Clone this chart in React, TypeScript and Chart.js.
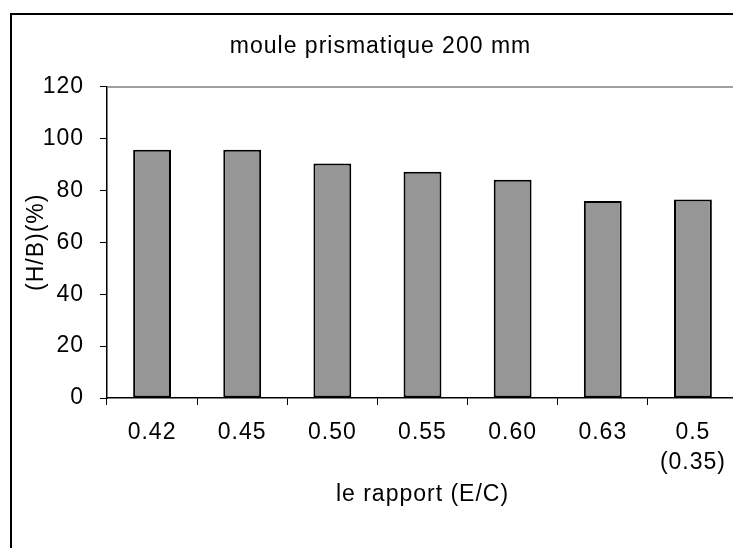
import React, { useEffect, useRef } from "react";
import { Chart, registerables } from "chart.js";

Chart.register(...registerables);

const chartTitle = "moule prismatique 200 mm";
const xAxisTitle = "le rapport (E/C)";
const yAxisTitle = "(H/B)(%)";
const categories: (string | string[])[] = ["0.42", "0.45", "0.50", "0.55", "0.60", "0.63", ["0.5", "(0.35)"]];
const values = [95.7, 95.7, 90.4, 87.2, 84.1, 75.9, 76.5];
const yMin = 0;
const yMax = 120;
const yStep = 20;

const FONT = "'Liberation Sans', Arial, sans-serif";
const SPACING = "1px";
const FS = 23;

const setSpacing = (chart: any) => {
  try {
    (chart.ctx as any).letterSpacing = SPACING;
  } catch (e) {}
};

const framePlugin = {
  id: "framePlugin",
  beforeUpdate(chart: any) {
    setSpacing(chart);
  },
  beforeDraw(chart: any) {
    setSpacing(chart);
  },
  beforeDatasetsDraw(chart: any) {
    const { ctx, chartArea } = chart;
    ctx.save();
    ctx.strokeStyle = "#808080";
    ctx.lineWidth = 1.5;
    ctx.beginPath();
    ctx.moveTo(chartArea.left, chartArea.top + 0.5);
    ctx.lineTo(chartArea.right + 0.5, chartArea.top + 0.5);
    ctx.lineTo(chartArea.right + 0.5, chartArea.bottom);
    ctx.stroke();
    ctx.restore();
  },
  afterDraw(chart: any) {
    const { ctx } = chart;
    ctx.save();
    ctx.strokeStyle = "#000000";
    ctx.lineWidth = 2;
    ctx.beginPath();
    ctx.moveTo(3, chart.height + 10);
    ctx.lineTo(3, 6);
    ctx.lineTo(chart.width + 10, 6);
    ctx.stroke();
    ctx.restore();
  },
};

export default function App() {
  const ref = useRef<HTMLCanvasElement | null>(null);

  useEffect(() => {
    if (!ref.current) return;
    const chart = new Chart(ref.current, {
      type: "bar",
      data: {
        labels: categories as any,
        datasets: [
          {
            data: values,
            backgroundColor: "#969696",
            borderColor: "#000000",
            borderWidth: 2,
            borderSkipped: false,
            barPercentage: 0.42,
            categoryPercentage: 1,
          },
        ],
      },
      options: {
        responsive: false,
        animation: false,
        devicePixelRatio: 1,
        layout: { padding: { left: 15, right: 3, top: 0, bottom: 0 } },
        plugins: {
          legend: { display: false },
          tooltip: { enabled: false },
          title: {
            display: true,
            text: chartTitle,
            color: "#000000",
            font: { family: FONT, size: FS, weight: "normal", lineHeight: 1.2 },
            padding: { top: 25, bottom: 26 },
          },
        },
        scales: {
          x: {
            type: "category",
            offset: true,
            grid: {
              display: true,
              offset: true,
              drawOnChartArea: false,
              drawTicks: true,
              tickLength: 7,
              color: "#000000",
              lineWidth: 1,
            },
            border: { display: true, color: "#000000", width: 1.5 },
            ticks: {
              color: "#000000",
              font: { family: FONT, size: FS, lineHeight: 1.3 },
              padding: 13,
              maxRotation: 0,
              autoSkip: false,
            },
            title: {
              display: true,
              text: xAxisTitle,
              color: "#000000",
              font: { family: FONT, size: FS, lineHeight: 1.2 },
              padding: { top: 0, bottom: 40 },
            },
            afterFit(scale: any) {
              scale.height = 150;
            },
          },
          y: {
            min: yMin,
            max: yMax,
            grid: {
              display: true,
              drawOnChartArea: false,
              drawTicks: true,
              tickLength: 7,
              color: "#000000",
              lineWidth: 1,
            },
            border: { display: true, color: "#000000", width: 1.5 },
            ticks: {
              stepSize: yStep,
              color: "#000000",
              font: { family: FONT, size: FS },
              padding: 16,
            },
            title: {
              display: true,
              text: yAxisTitle,
              color: "#000000",
              font: { family: FONT, size: FS, lineHeight: 1.2 },
              padding: { top: 0, bottom: 0 },
            },
            afterFit(scale: any) {
              scale.width = 84;
            },
          },
        },
      },
      plugins: [framePlugin],
    });
    return () => chart.destroy();
  }, []);

  return (
    <div style={{ width: 733, height: 540 }}>
      <canvas ref={ref} width={733} height={540} style={{ display: "block" }} />
    </div>
  );
}
